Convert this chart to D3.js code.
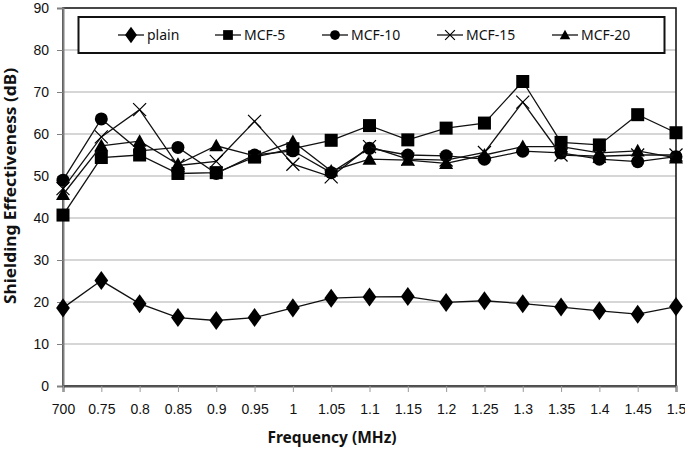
<!DOCTYPE html>
<html><head><meta charset="utf-8">
<script src="https://cdn.jsdelivr.net/npm/d3@7"></script>
<style>body{margin:0;background:#fff}svg{display:block;font-family:"Noto Sans",sans-serif}</style>
</head><body><svg id="c" width="685" height="451"></svg>
<script>
const categories = ["700","0.75","0.8","0.85","0.9","0.95","1","1.05","1.1","1.15","1.2","1.25","1.3","1.35","1.4","1.45","1.5"];
const seriesNames = ["plain","MCF-5","MCF-10","MCF-15","MCF-20"];
const plain = [18.6,25.1,19.6,16.3,15.6,16.3,18.6,20.9,21.2,21.3,19.9,20.3,19.6,18.8,17.9,17.1,18.9];
const mcf5  = [40.7,54.4,55.0,50.6,50.8,54.5,56.5,58.5,62.0,58.6,61.4,62.6,72.5,58.0,57.4,64.6,60.3];
const mcf10 = [49.0,63.6,56.0,56.8,50.6,55.0,56.0,50.8,56.6,55.0,54.8,54.0,55.9,55.5,54.0,53.4,54.6];
const mcf15 = [47.0,59.3,65.8,52.5,53.5,63.0,52.8,49.8,57.0,54.0,53.8,55.6,67.6,55.0,54.7,55.0,55.0];
const mcf20 = [45.6,57.2,58.3,52.8,57.2,54.8,58.2,51.2,54.0,53.8,53.0,55.0,57.0,57.0,55.5,56.0,54.3];
const yTicks = [0,10,20,30,40,50,60,70,80,90];

const seriesData = [plain, mcf5, mcf10, mcf15, mcf20];
const markers = ["diamond","square","circle","cross","triangle"];

const svg = d3.select("#c");
const L = 63, R = 676, T = 8, B = 386;
const x = d3.scalePoint().domain(categories).range([L, R]);
const y = d3.scaleLinear().domain([0, 90]).range([B, T]);

svg.append("g").selectAll("line").data(yTicks.filter(d => d > 0 && d < 90)).join("line")
  .attr("x1", L).attr("x2", R).attr("y1", d => y(d)).attr("y2", d => y(d))
  .attr("stroke", "#c8c8c8").attr("stroke-width", 1.3);

svg.append("rect").attr("x", L).attr("y", T).attr("width", R - L).attr("height", B - T)
  .attr("fill", "none").attr("stroke", "#1a1a1a").attr("stroke-width", 1.6);

const yAxis = d3.axisLeft(y).tickValues(yTicks).tickSize(6).tickPadding(8);
const gy = svg.append("g").attr("transform", `translate(${L},0)`).call(yAxis);
gy.select(".domain").attr("stroke", "#7f7f7f").attr("stroke-width", 2);
gy.selectAll(".tick line").attr("stroke", "#7f7f7f");
gy.selectAll("text").attr("font-size", 14).attr("fill", "#111");

const xAxis = d3.axisBottom(x).tickSize(6).tickPadding(12);
const gx = svg.append("g").attr("transform", `translate(0,${B})`).call(xAxis);
gx.select(".domain").attr("stroke", "#555").attr("stroke-width", 2);
gx.selectAll(".tick line").attr("stroke", "#999");
gx.selectAll("text").attr("font-size", 14).attr("fill", "#111");

svg.append("text").attr("x", 332).attr("y", 443).attr("text-anchor", "middle")
  .attr("font-size", 15.5).attr("font-weight", "bold").attr("fill", "#111").text("Frequency (MHz)");
svg.append("text").attr("transform", "translate(16,186) rotate(-90)").attr("text-anchor", "middle")
  .attr("font-size", 15.5).attr("font-weight", "bold").attr("fill", "#111")
  .attr("textLength", 236).attr("lengthAdjust", "spacingAndGlyphs").text("Shielding Effectiveness (dB)");

function drawMarker(g, type, cx, cy, scale) {
  const s = scale || 1;
  if (type === "diamond") {
    g.append("path").attr("d", d3.symbol(d3.symbolDiamond, 105 * s)()).attr("transform", `translate(${cx},${cy}) scale(1.25,1)`).attr("fill", "#000");
  } else if (type === "square") {
    g.append("rect").attr("x", cx - 6.5 * s).attr("y", cy - 6.5 * s).attr("width", 13 * s).attr("height", 13 * s).attr("fill", "#000");
  } else if (type === "circle") {
    g.append("circle").attr("cx", cx).attr("cy", cy).attr("r", 6.5 * s).attr("fill", "#000");
  } else if (type === "cross") {
    const r = 6.5 * s;
    g.append("path").attr("d", `M${cx - r},${cy - r}L${cx + r},${cy + r}M${cx - r},${cy + r}L${cx + r},${cy - r}`)
      .attr("stroke", "#000").attr("stroke-width", 1.2).attr("fill", "none");
  } else if (type === "triangle") {
    const r = 7 * s;
    g.append("path").attr("d", `M${cx},${cy - r}L${cx + r},${cy + r * 0.8}L${cx - r},${cy + r * 0.8}Z`).attr("fill", "#000");
  }
}

const line = d3.line().x((d, i) => x(categories[i])).y(d => y(d));
seriesData.forEach((data, si) => {
  const g = svg.append("g");
  g.append("path").datum(data).attr("d", line).attr("fill", "none").attr("stroke", "#111").attr("stroke-width", 1.3);
  data.forEach((v, i) => drawMarker(g, markers[si], x(categories[i]), y(v)));
});

const lg = svg.append("g");
lg.append("rect").attr("x", 78.5).attr("y", 17).attr("width", 586).attr("height", 36)
  .attr("fill", "#fff").attr("stroke", "#111").attr("stroke-width", 2);
const legX = [118, 215, 322, 437, 552];
seriesNames.forEach((n, i) => {
  const lx = legX[i];
  lg.append("line").attr("x1", lx).attr("x2", lx + 26).attr("y1", 35).attr("y2", 35).attr("stroke", "#111").attr("stroke-width", 1.3);
  drawMarker(lg, markers[i], lx + 13, 35, 0.75);
  lg.append("text").attr("x", lx + 29).attr("y", 40).attr("font-size", 14).attr("fill", "#111").text(n);
});
</script></body></html>
